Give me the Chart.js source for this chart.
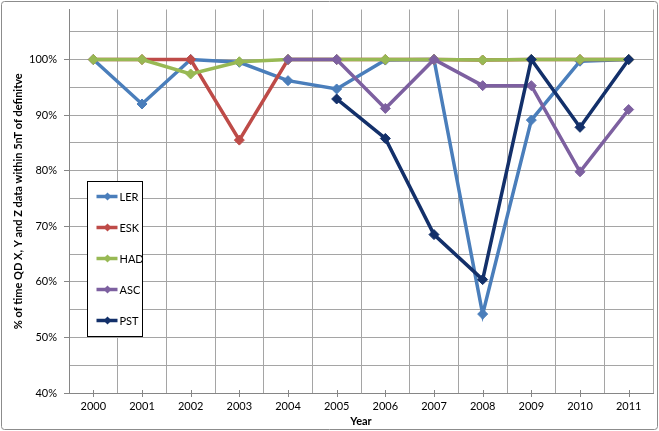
<!DOCTYPE html>
<html>
<head>
<meta charset="utf-8">
<script src="https://cdn.jsdelivr.net/npm/chart.js@4/dist/chart.umd.min.js"></script>
<style>
  html, body { margin: 0; padding: 0; background: #fff; }
  #wrap { width: 659px; height: 431px; }
</style>
</head>
<body>
<div id="wrap"><canvas id="c" width="659" height="431"></canvas></div>
<script>
const years = ['2000','2001','2002','2003','2004','2005','2006','2007','2008','2009','2010','2011'];
const seriesNames = ['LER','ESK','HAD','ASC','PST'];
const ler = [100, 92.0, 100, 99.5, 96.2, 94.7, 99.9, 100, 54.2, 89.1, 99.7, 100];
const esk = [100, 100, 100, 85.5, 100, 100, 100, 100, 99.9, 100, 100, 100];
const had = [100, 100, 97.4, 99.6, 100, 100, 100, 100, 99.9, 100, 100, 100];
const asc = [null, null, null, null, 100, 100, 91.2, 100, 95.3, 95.3, 79.8, 91.0];
const pst = [null, null, null, null, null, 92.9, 85.8, 68.5, 60.4, 100, 87.8, 100];
const colors = ['#4A7EBB', '#BE4B48', '#98B954', '#7D60A0', '#13306A'];
const yMin = 40, yMax = 109, yStep = 5, yLabelStep = 10;
const xTitle = 'Year';
const yTitle = '% of time QD X, Y and Z data within 5nT of definitve';

const FONT = 'Lato, "Open Sans", sans-serif';
const allSeries = [ler, esk, had, asc, pst];

const datasets = allSeries.map((d, i) => ({
  label: seriesNames[i],
  data: d,
  borderColor: colors[i],
  backgroundColor: colors[i],
  borderWidth: 3.5,
  pointStyle: 'rectRot',
  pointRadius: 5,
  pointBorderWidth: 1,
  pointBorderColor: colors[i],
  pointBackgroundColor: colors[i],
  tension: 0,
  spanGaps: false,
  order: allSeries.length - i
}));

const decor = {
  id: 'decor',
  beforeDraw(chart) {
    const ctx = chart.ctx;
    ctx.save();
    ctx.fillStyle = '#fff';
    ctx.fillRect(0, 0, chart.width, chart.height);
    ctx.restore();
  },
  afterDraw(chart) {
    const ctx = chart.ctx;
    const ca = chart.chartArea;
    const xs = chart.scales.x;
    ctx.save();
    // x tick marks at category centres
    ctx.strokeStyle = '#868686';
    ctx.lineWidth = 1;
    for (let i = 0; i < years.length; i++) {
      const x = Math.round(xs.getPixelForTick(i)) + 0.5;
      ctx.beginPath();
      ctx.moveTo(x, ca.bottom - 3);
      ctx.lineTo(x, ca.bottom + 4);
      ctx.stroke();
    }
    // legend box
    const lx = 87.5, ly = 181.5;
    const lw = 55, lh = 155;
    ctx.fillStyle = '#fff';
    ctx.fillRect(lx, ly, lw, lh);
    ctx.strokeStyle = '#000';
    ctx.lineWidth = 1;
    ctx.strokeRect(lx, ly, lw, lh);
    ctx.font = '11px ' + FONT;
    ctx.textBaseline = 'middle';
    ctx.textAlign = 'left';
    seriesNames.forEach((name, i) => {
      const y = ly + 15 + i * 31;
      ctx.strokeStyle = colors[i];
      ctx.lineWidth = 3.5;
      ctx.beginPath();
      ctx.moveTo(lx + 9, y);
      ctx.lineTo(lx + 30, y);
      ctx.stroke();
      ctx.fillStyle = colors[i];
      ctx.beginPath();
      const cx = lx + 20;
      ctx.moveTo(cx, y - 4); ctx.lineTo(cx + 4, y); ctx.lineTo(cx, y + 4); ctx.lineTo(cx - 4, y); ctx.closePath();
      ctx.fill();
      ctx.fillStyle = '#000';
      ctx.fillText(name, lx + 32, y + 0.5);
    });
    // outer border
    ctx.strokeStyle = '#8c8c8c';
    ctx.lineWidth = 1;
    const r = 3;
    const bx = 1.5, by = 1.5, bw = chart.width - 3, bh = chart.height - 3;
    ctx.beginPath();
    ctx.moveTo(bx + r, by);
    ctx.arcTo(bx + bw, by, bx + bw, by + bh, r);
    ctx.arcTo(bx + bw, by + bh, bx, by + bh, r);
    ctx.arcTo(bx, by + bh, bx, by, r);
    ctx.arcTo(bx, by, bx + bw, by, r);
    ctx.closePath();
    ctx.stroke();
    ctx.restore();
  }
};

new Chart(document.getElementById('c'), {
  type: 'line',
  data: { labels: years, datasets },
  options: {
    responsive: false,
    animation: false,
    devicePixelRatio: 1,
    layout: { padding: { left: 0, right: 6, top: 9.5, bottom: 0 } },
    plugins: { legend: { display: false }, tooltip: { enabled: false } },
    scales: {
      x: {
        type: 'category',
        offset: true,
        grid: {
          offset: true,
          color: '#a5a5a5',
          lineWidth: 1,
          drawTicks: true,
          tickLength: 4,
          tickColor: 'transparent'
        },
        border: { color: '#868686', width: 1 },
        ticks: {
          color: '#000',
          font: { family: FONT, size: 11 },
          padding: 3,
          maxRotation: 0,
          autoSkip: false
        },
        title: {
          display: true,
          text: xTitle,
          color: '#000',
          font: { family: FONT, size: 11, weight: 'bold' },
          padding: { top: 0, bottom: 3 }
        },
        afterFit(scale) { scale.height = 38; scale.paddingLeft = 0; scale.paddingRight = 0; }
      },
      y: {
        min: yMin,
        max: yMax,
        grid: {
          color: '#a5a5a5',
          lineWidth: 1,
          tickLength: 5,
          tickColor: (c) => (c.tick && c.tick.value % yLabelStep === 0) ? '#868686' : 'transparent'
        },
        border: { color: '#868686', width: 1 },
        ticks: {
          stepSize: yStep,
          includeBounds: false,
          color: '#000',
          font: { family: FONT, size: 11 },
          padding: 7,
          autoSkip: false,
          callback: (v) => (v % yLabelStep === 0) ? v + '%' : ''
        },
        title: {
          display: true,
          text: yTitle,
          color: '#000',
          font: { family: FONT, size: 11, weight: 'bold' },
          padding: { top: 12, bottom: 0 }
        },
        afterFit(scale) { scale.width = 69; scale.paddingTop = 0; scale.paddingBottom = 0; }
      }
    }
  },
  plugins: [decor]
});
</script>
</body>
</html>
